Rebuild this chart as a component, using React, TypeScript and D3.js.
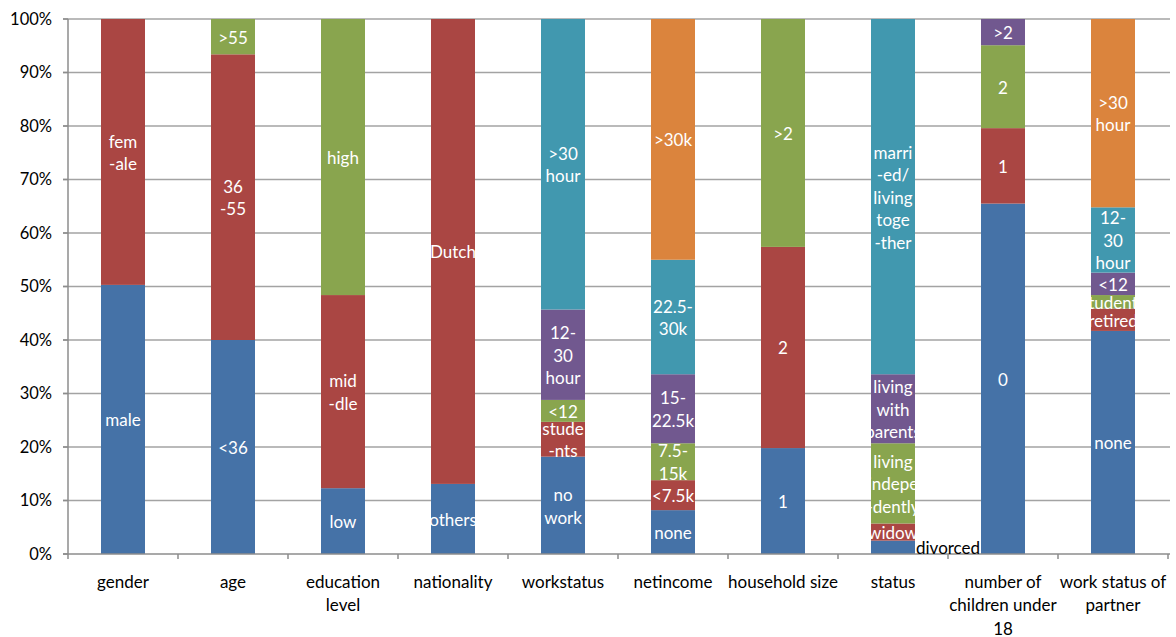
import React from "react";
import * as d3 from "d3";

const categories: string[][] = [
  ["gender"],
  ["age"],
  ["education", "level"],
  ["nationality"],
  ["workstatus"],
  ["netincome"],
  ["household size"],
  ["status"],
  ["number of", "children under", "18"],
  ["work status of", "partner"],
];

// percentages per series (stack order bottom -> top)
const series1 = [50.3, 40.0, 12.3, 13.1, 18.2, 8.2, 19.8, 2.5, 65.5, 41.7];
const series2 = [49.7, 53.4, 36.1, 86.9, 6.5, 5.6, 37.6, 3.2, 14.1, 4.2];
const series3 = [0, 6.6, 51.6, 0, 4.1, 6.9, 42.6, 15.0, 15.5, 2.5];
const series4 = [0, 0, 0, 0, 16.9, 12.9, 0, 12.9, 4.9, 4.2];
const series5 = [0, 0, 0, 0, 54.3, 21.4, 0, 66.4, 0, 12.2];
const series6 = [0, 0, 0, 0, 0, 45.0, 0, 0, 0, 35.2];

const labels1 = ["male", "<36", "low", "others", "no\nwork", "none", "1", "divorced", "0", "none"];
const labels2 = ["fem\n-ale", "36\n-55", "mid\n-dle", "Dutch", "stude\n-nts", "<7.5k", "2", "widow", "1", "retired"];
const labels3 = ["", ">55", "high", "", "<12", "7.5-\n15k", ">2", "living\nindepe\n-dently", "2", "students"];
const labels4 = ["", "", "", "", "12-\n30\nhour", "15-\n22.5k", "", "living\nwith\nparents", ">2", "<12"];
const labels5 = ["", "", "", "", ">30\nhour", "22.5-\n30k", "", "marri\n-ed/\nliving\ntoge\n-ther", "", "12-\n30\nhour"];
const labels6 = ["", "", "", "", "", ">30k", "", "", "", ">30\nhour"];

const colors = ["#4572A7", "#AA4643", "#89A54E", "#71588F", "#4198AF", "#DB843D"];
const yTicks = [0, 10, 20, 30, 40, 50, 60, 70, 80, 90, 100];

// labels that Excel moved outside the bar: [series index, category index]
const outsideLabels: [number, number][] = [[0, 7]];

const W = 1176;
const H = 637;
const left = 68;
const right = 1168;
const top = 19;
const bottom = 554;
const FONT = "Lato, 'Open Sans', sans-serif";

export default function App() {
  const seriesVals = [series1, series2, series3, series4, series5, series6];
  const seriesLabels = [labels1, labels2, labels3, labels4, labels5, labels6];
  const idx = categories.map((_, i) => i);

  const x = d3
    .scaleBand<number>()
    .domain(idx)
    .range([left, right])
    .paddingInner(0.6)
    .paddingOuter(0.3);
  const step = (right - left) / categories.length;
  const y = d3.scaleLinear().domain([0, 100]).range([bottom, top]);

  const table = idx.map((i) => {
    const row: Record<string, number> = {};
    seriesVals.forEach((s, k) => (row["s" + k] = s[i]));
    return row;
  });
  const stack = d3.stack<Record<string, number>>().keys(seriesVals.map((_, k) => "s" + k));
  const stacked = stack(table);

  const lineH = 22.5;

  return (
    <svg
      width={W}
      height={H}
      style={{ position: "absolute", left: 0, top: 0, background: "#fff" }}
      fontFamily={FONT}
    >
      {/* grid */}
      {yTicks.map((t) => (
        <g key={t}>
          {t > 0 && (
            <line x1={left - 5} x2={right + 2} y1={y(t)} y2={y(t)} stroke="#A3A3A3" strokeWidth={1.5} />
          )}
          <line x1={left - 5} x2={left} y1={y(t)} y2={y(t)} stroke="#8C8C8C" strokeWidth={1.5} />
          <text x={52} y={y(t)} dy="0.35em" textAnchor="end" fontSize={16.5} fill="#000">
            {t + "%"}
          </text>
        </g>
      ))}

      {/* bars */}
      {stacked.map((layer, k) =>
        layer.map((d, i) => {
          const v = d[1] - d[0];
          if (v <= 0) return null;
          return (
            <rect
              key={k + "-" + i}
              x={x(i)}
              y={y(d[1])}
              width={x.bandwidth()}
              height={y(d[0]) - y(d[1])}
              fill={colors[k]}
            />
          );
        })
      )}

      {/* axes */}
      <line x1={left} x2={left} y1={top} y2={bottom} stroke="#8C8C8C" strokeWidth={1.5} />
      <line x1={left - 5} x2={right + 2} y1={bottom} y2={bottom} stroke="#8C8C8C" strokeWidth={1.5} />
      {d3.range(categories.length + 1).map((i) => (
        <line
          key={"xt" + i}
          x1={left + step * i}
          x2={left + step * i}
          y1={bottom}
          y2={bottom + 5}
          stroke="#8C8C8C"
          strokeWidth={1.5}
        />
      ))}

      {/* data labels */}
      {stacked.map((layer, k) =>
        layer.map((d, i) => {
          const v = d[1] - d[0];
          const lab = seriesLabels[k][i];
          if (v <= 0 || !lab) return null;
          const lines = lab.split("\n");
          const cy = (y(d[0]) + y(d[1])) / 2;
          const outside = outsideLabels.some(([sk, ci]) => sk === k && ci === i);
          if (outside) {
            return (
              <text
                key={"l" + k + "-" + i}
                x={(x(i) as number) + x.bandwidth() + 1}
                y={cy + 1}
                dy="0.35em"
                fontSize={17}
                fill="#000"
              >
                {lab}
              </text>
            );
          }
          const cx = (x(i) as number) + x.bandwidth() / 2;
          const y0 = cy - ((lines.length - 1) * lineH) / 2;
          return (
            <g key={"l" + k + "-" + i}>
              {lines.map((ln, j) => (
                <text
                  key={j}
                  x={cx}
                  y={y0 + j * lineH + 1}
                  dy="0.35em"
                  textAnchor="middle"
                  fontSize={17}
                  fill="#FFFFFF"
                >
                  {ln}
                </text>
              ))}
            </g>
          );
        })
      )}

      {/* category labels */}
      {categories.map((c, i) => (
        <g key={"c" + i}>
          {c.map((ln, j) => (
            <text
              key={j}
              x={(x(i) as number) + x.bandwidth() / 2}
              y={582 + j * 23.5}
              dy="0.35em"
              textAnchor="middle"
              fontSize={17}
              fill="#000"
            >
              {ln}
            </text>
          ))}
        </g>
      ))}
    </svg>
  );
}
